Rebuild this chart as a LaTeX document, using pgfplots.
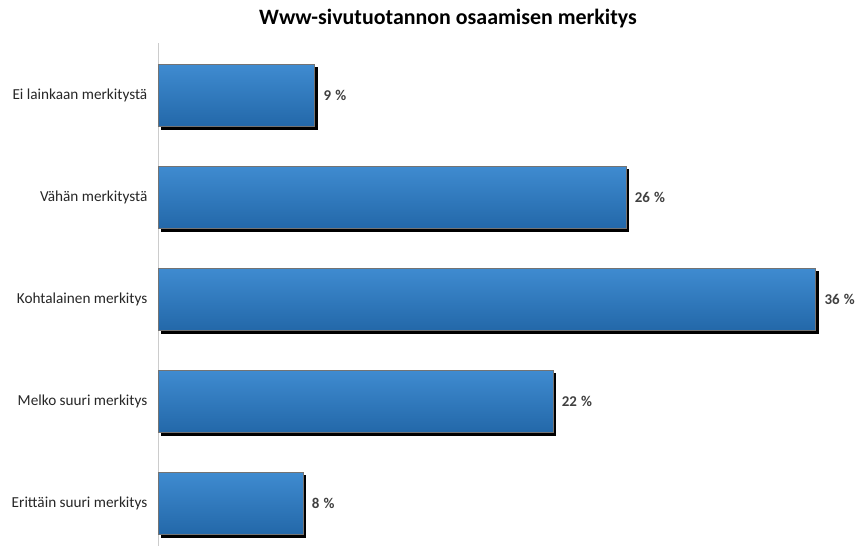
\documentclass[border=0pt]{standalone}
\usepackage{pgfplots}
\pgfplotsset{compat=1.18}
\usepackage{fontspec}
\setmainfont{Carlito}
\usetikzlibrary{shadows}
\definecolor{bartop}{HTML}{3F8BD0}
\definecolor{barbot}{HTML}{2368A9}
\begin{document}
\begin{tikzpicture}
\path[use as bounding box] (0,0) rectangle (860bp,549bp);
\node[font=\bfseries\fontsize{22}{26}\selectfont, anchor=center] at (448bp,530bp) {Www-sivutuotannon osaamisen merkitys};
\begin{axis}[
  at={(158.5bp,3bp)}, anchor=south west,
  scale only axis, width=700bp, height=503bp,
  xbar, bar width=62bp, bar shift=0pt,
  xmin=0, xmax=38.36,
  ymin=-0.515, ymax=4.42,
  y dir=reverse,
  ytick={0,1,2,3,4},
  yticklabels={Ei lainkaan merkitystä, Vähän merkitystä, Kohtalainen merkitys, Melko suuri merkitys, Erittäin suuri merkitys},
  yticklabel style={font=\fontsize{15.3}{17}\selectfont, text=black!85, anchor=east, inner sep=0pt, xshift=-11bp},
  major tick length=0pt,
  xtick=\empty,
  axis x line=none,
  axis y line*=left,
  y axis line style={draw=gray!40, line width=0.9pt},
  /pgf/number format/assume math mode=true,
  nodes near coords={\pgfmathprintnumber[fixed,precision=0]{\pgfplotspointmeta}\hspace{0.28em}\%},
  nodes near coords style={font=\bfseries\fontsize{15}{17}\selectfont, text=black!75, anchor=west, inner sep=0pt, xshift=9bp},
  point meta=x,
  clip=false,
  mybar/.style={draw=black!55, line width=0.3pt, top color=bartop, bottom color=barbot,
    drop shadow={shadow xshift=2.8bp, shadow yshift=-3bp, top color=black, bottom color=black, fill=black, draw=black, opacity=1}},
]
\addplot[mybar] coordinates {(8.55,0)};
\addplot[mybar] coordinates {(25.6,1)};
\addplot[mybar] coordinates {(36,2)};
\addplot[mybar] coordinates {(21.6,3)};
\addplot[mybar] coordinates {(7.9,4)};
\end{axis}
\end{tikzpicture}
\end{document}
